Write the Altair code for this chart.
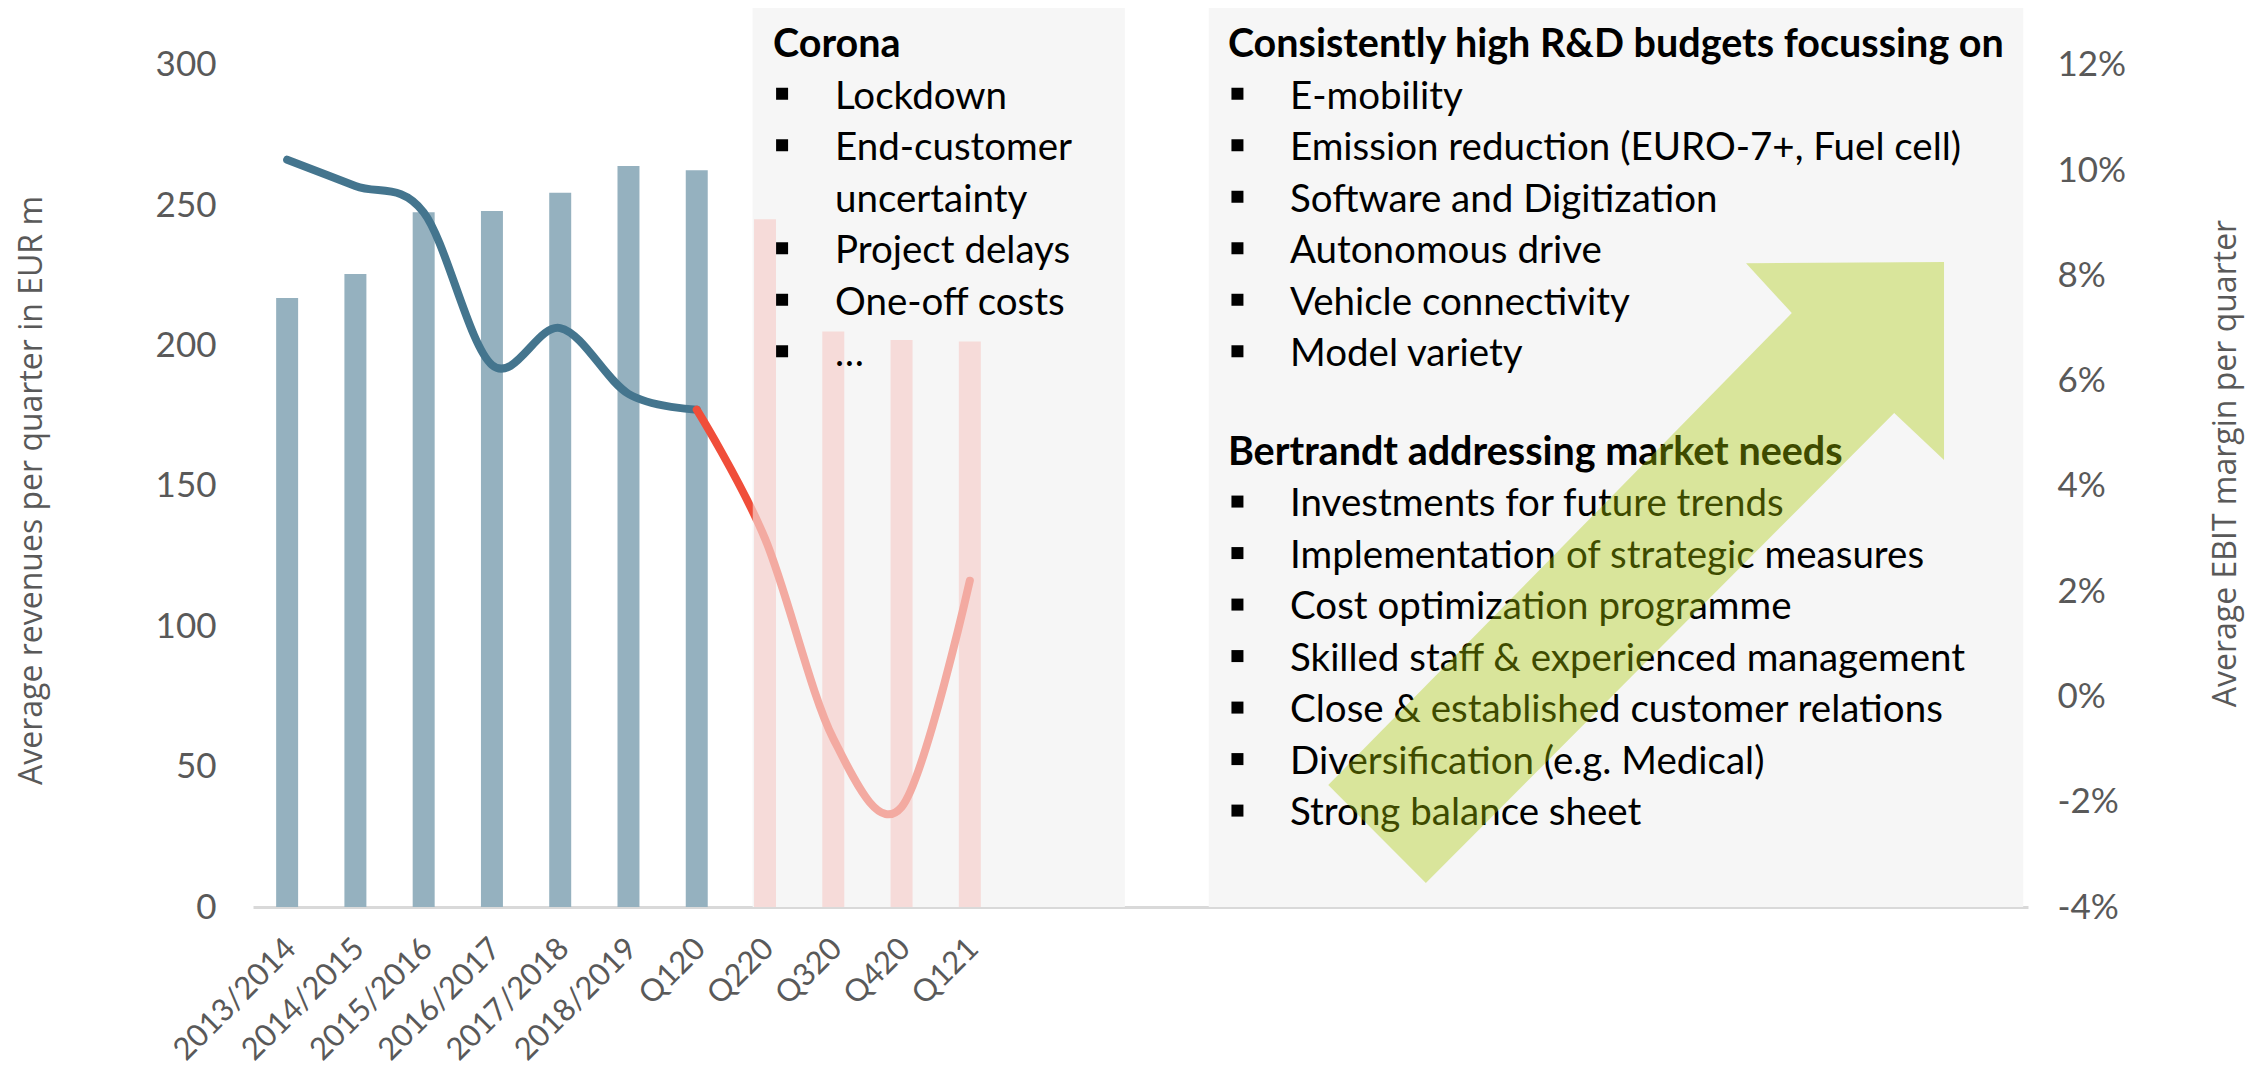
import altair as alt
import pandas as pd

# ---------------- data ----------------
categories = ["2013/2014", "2014/2015", "2015/2016", "2016/2017", "2017/2018",
              "2018/2019", "Q120", "Q220", "Q320", "Q420", "Q121"]
revenues = [217, 225.5, 247.5, 248, 254.5, 264, 262.5, 245, 205, 202, 201.5]
ebit_margin = [10.2, 9.7, 9.2, 6.3, 7.0, 5.75, 5.45, 3.0, -0.8, -2.1, 2.2]
period = ["hist"] * 7 + ["fc"] * 4

left_ticks = [0, 50, 100, 150, 200, 250, 300]
right_ticks = [-4, -2, 0, 2, 4, 6, 8, 10, 12]

left_title = "Average revenues per quarter in EUR m"
right_title = "Average EBIT margin per quarter"

corona_title = "Corona"
corona_items = ["Lockdown", "End-customer", "uncertainty", "Project delays", "One-off costs", "\u2026"]
corona_bullet = [True, True, False, True, True, True]
rd_title = "Consistently high R&D budgets focussing on"
rd_items = ["E-mobility", "Emission reduction (EURO-7+, Fuel cell)", "Software and Digitization",
            "Autonomous drive", "Vehicle connectivity", "Model variety"]
bt_title = "Bertrandt addressing market needs"
bt_items = ["Investments for future trends", "Implementation of strategic measures",
            "Cost optimization programme", "Skilled staff & experienced management",
            "Close & established customer relations", "Diversification (e.g. Medical)",
            "Strong balance sheet"]

# ---------------- layout (axis units: x = category slots, y = revenue units) ----------------
N_SLOTS = 26
Y_MAX = 320.3
R_MIN, R_MAX = -4, -4 + Y_MAX * 16 / 300
BAR_HALF = 0.161

corona_box = (7.32, 12.77)
right_box = (14.0, 25.93)
ROW_TOP = 302.8
ROW_STEP = 18.35
BLOCK2_TOP = 157.5
BULLET_DY = 5.3

CORONA_X = dict(title=7.617, bullet=7.75, text=8.525)
RIGHT_X = dict(title=14.28, bullet=14.42, text=15.19)

arrow_pts = [(17.18, 8.55), (15.75, 43.47), (22.54, 211.6), (21.87, 229.4),
             (24.77, 229.8), (24.77, 159.3), (24.04, 176.0)]

# ---------------- styles ----------------
BLUE_BAR = "#95b1bf"
FC_BAR = "#f6bbb6"
LINE_DARK = "#44758e"
LINE_RED = "#f04e3a"
BOX = "#f6f6f6"
GREY_TXT = "#595959"
ARROW = "#a8c800"
FONT = "Lato"

# ---------------- tables ----------------
bars_df = pd.DataFrame({"idx": range(len(categories)), "category": categories,
                        "revenue": revenues, "period": period})

line_rows = []
for i, v in enumerate(ebit_margin):
    if i <= 6:
        line_rows.append({"idx": i, "margin": v, "seg": "line_hist"})
    if i >= 6:
        line_rows.append({"idx": i, "margin": v, "seg": "line_fc"})
line_df = pd.DataFrame(line_rows)

boxes_df = pd.DataFrame({"x0": [corona_box[0], right_box[0]], "x1": [corona_box[1], right_box[1]],
                         "y0": [0, 0], "y1": [Y_MAX, Y_MAX]})
overlay_df = boxes_df.iloc[[0]]

norm_rows, bold_rows, bullet_rows = [], [], []
bold_rows.append({"x": CORONA_X["title"], "y": ROW_TOP, "text": corona_title})
for k, (t, b) in enumerate(zip(corona_items, corona_bullet), start=1):
    y = ROW_TOP - k * ROW_STEP
    norm_rows.append({"x": CORONA_X["text"], "y": y, "text": t})
    if b:
        bullet_rows.append({"x": CORONA_X["bullet"], "y": y + BULLET_DY})
bold_rows.append({"x": RIGHT_X["title"], "y": ROW_TOP, "text": rd_title})
for k, t in enumerate(rd_items, start=1):
    y = ROW_TOP - k * ROW_STEP
    norm_rows.append({"x": RIGHT_X["text"], "y": y, "text": t})
    bullet_rows.append({"x": RIGHT_X["bullet"], "y": y + BULLET_DY})
bold_rows.append({"x": RIGHT_X["title"], "y": BLOCK2_TOP, "text": bt_title})
for k, t in enumerate(bt_items, start=1):
    y = BLOCK2_TOP - k * ROW_STEP
    norm_rows.append({"x": RIGHT_X["text"], "y": y, "text": t})
    bullet_rows.append({"x": RIGHT_X["bullet"], "y": y + BULLET_DY})
norm_df = pd.DataFrame(norm_rows)
bold_df = pd.DataFrame(bold_rows)
bullet_df = pd.DataFrame(bullet_rows)

arrow_df = pd.DataFrame({"i": range(len(arrow_pts)), "x": [p[0] for p in arrow_pts],
                         "y": [p[1] for p in arrow_pts]})

# ---------------- scales & axes ----------------
xscale = alt.Scale(domain=[0, N_SLOTS], nice=False, zero=False)
yl = alt.Scale(domain=[0, Y_MAX], nice=False, zero=False)
yr = alt.Scale(domain=[R_MIN, R_MAX], nice=False, zero=False)

label_js = "[" + ",".join("'" + c + "'" for c in categories) + "][floor(datum.value)]"
xaxis = alt.Axis(values=[i + 0.5 for i in range(len(categories))], labelExpr=label_js,
                 title=None, ticks=False, grid=False, domain=True, domainColor="#d9d9d9",
                 domainWidth=3, labelAngle=315, labelAlign="right", labelBaseline="top",
                 labelPadding=26, labelOffset=-7, labelFont=FONT, labelFontSize=31,
                 labelColor=GREY_TXT, labelOverlap=False, labelFlush=False, labelBound=False)
laxis = alt.Axis(values=left_ticks, title=left_title, titleFont="Open Sans", titleFontSize=32,
                 titleFontWeight="normal", titleColor=GREY_TXT, titleAngle=270, titleX=-222,
                 titleY=482, titleBaseline="middle", domain=False, ticks=False, grid=False,
                 labelFont=FONT, labelFontSize=35, labelColor=GREY_TXT, labelPadding=37)
raxis = alt.Axis(values=right_ticks, orient="right", labelExpr="datum.value + '%'",
                 title=right_title, titleFont="Open Sans", titleFontSize=32,
                 titleFontWeight="normal", titleColor=GREY_TXT, titleAngle=270, titleX=197,
                 titleY=455, titleBaseline="middle", domain=False, ticks=False, grid=False,
                 labelFont=FONT, labelFontSize=35, labelColor=GREY_TXT, labelPadding=29)


def X(field):
    return alt.X(field, scale=xscale, axis=xaxis)


# ---------------- layers ----------------
bg = alt.Chart(boxes_df).mark_rect(color=BOX).encode(
    x=X("x0:Q"), x2="x1:Q",
    y=alt.Y("y0:Q", scale=yl, axis=None), y2="y1:Q")

bars = alt.Chart(bars_df).transform_calculate(
    x0=f"datum.idx + 0.5 - {BAR_HALF}", x1=f"datum.idx + 0.5 + {BAR_HALF}"
).mark_rect().encode(
    x=X("x0:Q"), x2="x1:Q",
    y=alt.Y("revenue:Q", scale=yl, axis=laxis), y2=alt.datum(0),
    color=alt.Color("period:N", scale=alt.Scale(domain=["hist", "fc"], range=[BLUE_BAR, FC_BAR]),
                    legend=None))

line = alt.Chart(line_df).transform_calculate(xc="datum.idx + 0.5").mark_line(
    interpolate="cardinal", strokeWidth=8, strokeCap="round", strokeJoin="round"
).encode(
    x=X("xc:Q"),
    y=alt.Y("margin:Q", scale=yr, axis=raxis),
    color=alt.Color("seg:N", scale=alt.Scale(domain=["line_hist", "line_fc"],
                                             range=[LINE_DARK, LINE_RED]), legend=None),
    order="idx:Q")

overlay = alt.Chart(overlay_df).mark_rect(color=BOX, opacity=0.55).encode(
    x=X("x0:Q"), x2="x1:Q",
    y=alt.Y("y0:Q", scale=yl, axis=None), y2="y1:Q")

txt_norm = alt.Chart(norm_df).mark_text(align="left", baseline="alphabetic", font=FONT,
                                        fontSize=38.5, color="black").encode(
    x=X("x:Q"), y=alt.Y("y:Q", scale=yl, axis=None), text="text:N")

txt_bold = alt.Chart(bold_df).mark_text(align="left", baseline="alphabetic", font=FONT,
                                        fontSize=39.5, fontWeight="bold", color="black").encode(
    x=X("x:Q"), y=alt.Y("y:Q", scale=yl, axis=None), text="text:N")

bullets = alt.Chart(bullet_df).mark_square(size=144, color="black", opacity=1).encode(
    x=X("x:Q"), y=alt.Y("y:Q", scale=yl, axis=None))

arrow = alt.Chart(arrow_df).mark_line(fill=ARROW, fillOpacity=0.37, strokeOpacity=0,
                                      interpolate="linear-closed").encode(
    x=X("x:Q"), y=alt.Y("y:Q", scale=yl, axis=None), order="i:Q")

chart = alt.layer(bg, bars, line, overlay, txt_norm, txt_bold, bullets, arrow).resolve_scale(
    y="independent", color="independent"
).properties(
    width=1775, height=899,
    padding={"left": 245, "top": 0, "right": 222, "bottom": 160},
    autosize=alt.AutoSizeParams(type="none"),
).configure_view(stroke=None)

chart.save("out.html", embed_options={"renderer": "svg", "actions": False})
